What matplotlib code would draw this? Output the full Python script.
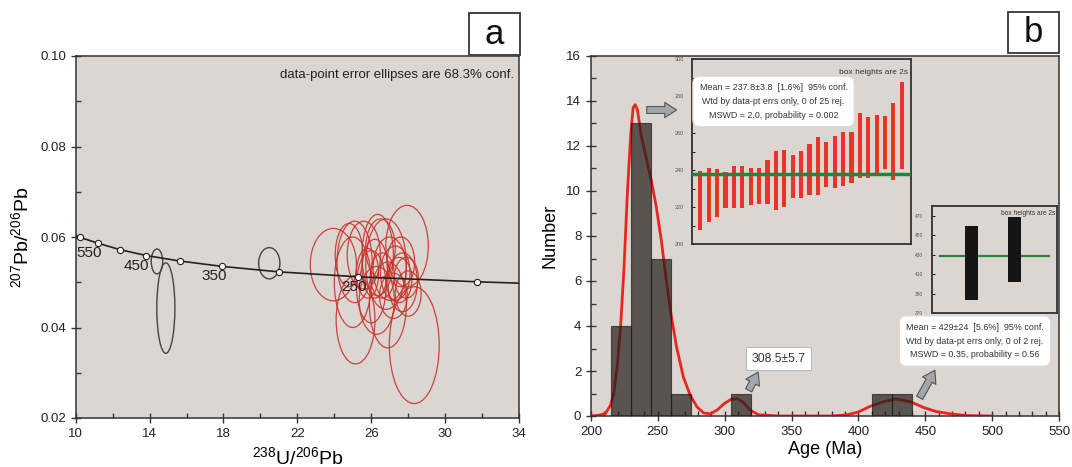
import matplotlib.pyplot as plt
import matplotlib.patches as mpatches
from matplotlib.ticker import MultipleLocator

plt.rcParams['font.family'] = ['Liberation Sans', 'DejaVu Sans']
plt.rcParams['mathtext.fontset'] = 'custom'
plt.rcParams['mathtext.rm'] = 'Liberation Sans'
plt.rcParams['mathtext.it'] = 'Liberation Sans:italic'

# ---- panel a: Tera-Wasserburg concordia ----
conc_x = [10.0, 10.25, 11.23, 12.40, 13.83, 15.62, 17.93, 20.99, 25.29, 31.73, 34.0]
conc_y = [0.0603, 0.0599, 0.0586, 0.0572, 0.0559, 0.0547, 0.0535, 0.0523, 0.0512, 0.0501, 0.0498]
marker_x = [10.25, 11.23, 12.40, 13.83, 15.62, 17.93, 20.99, 25.29, 31.73]
marker_y = [0.0599, 0.0586, 0.0572, 0.0559, 0.0547, 0.0535, 0.0523, 0.0512, 0.0501]
age_labels = ['550', '450', '350', '250']
age_label_x = [10.05, 12.6, 16.8, 24.4]
age_label_y = [0.0564, 0.0536, 0.0514, 0.0490]
a_xticks = [10, 14, 18, 22, 26, 30, 34]

# grey (older) ellipses: centre x, centre y, width, height
old_cx = [14.40, 14.88, 20.48]
old_cy = [0.0546, 0.0443, 0.0542]
old_w = [0.62, 0.98, 1.15]
old_h = [0.0055, 0.0200, 0.0069]

# red (Triassic) ellipses
red_cx = [23.95, 25.10, 25.00, 25.15, 25.60, 26.35, 26.00, 26.30, 26.90, 27.94, 28.33, 27.30, 27.50,
          27.00, 27.70, 26.60, 27.90, 25.80, 27.20, 26.20, 27.60, 28.00, 26.50, 24.80, 26.80]
red_cy = [0.0539, 0.0545, 0.0500, 0.0417, 0.0560, 0.0560, 0.0490, 0.0460, 0.0450, 0.0580, 0.0361, 0.0520, 0.0505,
          0.0530, 0.0500, 0.0515, 0.0510, 0.0520, 0.0470, 0.0530, 0.0545, 0.0475, 0.0575, 0.0560, 0.0540]
red_w = [2.50, 1.90, 2.00, 2.10, 1.80, 1.70, 1.60, 1.90, 2.00, 2.30, 2.70, 1.60, 1.40,
         1.80, 1.60, 1.30, 1.30, 1.20, 1.50, 1.40, 1.50, 1.40, 1.60, 1.50, 2.20]
red_h = [0.0160, 0.0180, 0.0200, 0.0195, 0.0150, 0.0180, 0.0160, 0.0150, 0.0190, 0.0180, 0.0258, 0.0120, 0.0100,
         0.0140, 0.0130, 0.0100, 0.0090, 0.0110, 0.0100, 0.0130, 0.0110, 0.0100, 0.0130, 0.0140, 0.0200]

# ---- panel b: histogram + probability curve ----
bin_left = [215, 230, 245, 260, 305, 410, 425]
bin_count = [4, 13, 7, 1, 1, 1, 1]
curve_age = [200, 205, 210.7, 214.5, 217, 219.6, 222.1, 224.7, 227.2, 229.7, 231.5, 233.0, 234.8, 237.4,
             241.2, 245, 248.8, 252.6, 256.4, 260.2, 264, 269.1, 274.2, 279.3, 284.4, 289.5, 294.6, 299.6,
             304.7, 309.3, 313.6, 318.7, 325, 340, 380, 392, 400, 408.7, 416.6, 428, 439.5, 448.6, 458,
             468.5, 481, 500]
curve_num = [0, 0.03, 0.1, 0.47, 1.0, 2.2, 3.95, 6.6, 9.9, 12.5, 13.7, 13.84, 13.6, 12.5,
             11.5, 10.5, 9.3, 7.8, 6.0, 4.4, 3.06, 1.73, 0.92, 0.4, 0.13, 0.1, 0.28, 0.55,
             0.74, 0.77, 0.62, 0.28, 0.06, 0, 0, 0.06, 0.18, 0.43, 0.6, 0.76, 0.62, 0.38, 0.2,
             0.1, 0.02, 0]

# inset 1: 25 Triassic ages, box tops/bottoms (2s)
young_top = [239.6, 241.4, 240.4, 238.9, 242.3, 242.3, 240.9, 241.4, 245.6, 250.1, 250.8, 248.1, 250.5,
             254.4, 258.0, 255.0, 258.6, 260.7, 260.7, 271.0, 269.0, 269.9, 269.5, 276.4, 287.7]
young_bot = [207.6, 211.7, 214.4, 219.3, 219.3, 219.3, 221.1, 221.6, 221.6, 218.4, 220.2, 224.9, 224.9,
             226.5, 226.5, 231.0, 230.1, 231.5, 232.8, 236.0, 236.0, 237.5, 240.5, 234.6, 240.5]
young_mean = 237.8
# inset 2: 2 Silurian ages
old_top = [460, 469]
old_bot = [384, 402]
old_mean = 429

BG = '#dcd6d2'
W, H = 1072, 467
fig = plt.figure(figsize=(W / 100, H / 100), dpi=100)


def px_axes(l, t, r, b):
    return fig.add_axes([l / W, 1 - b / H, (r - l) / W, (b - t) / H])


def style(ax):
    ax.set_facecolor(BG)
    for s in ax.spines.values():
        s.set_color('#333333')
        s.set_linewidth(1.1)
    ax.tick_params(which='major', direction='inout', length=7, width=1, color='#333333',
                   labelsize=9.5, labelcolor='#222222')
    ax.tick_params(which='minor', direction='in', length=3.5, width=1, color='#333333')


def label_box(l, t, r, b, letter):
    fig.patches.append(mpatches.Rectangle((l / W, 1 - b / H), (r - l) / W, (b - t) / H,
                                          transform=fig.transFigure, fc='white', ec='#444444', lw=1.4))
    fig.text((l + r) / 2 / W, 1 - (t + b) / 2 / H, letter, ha='center', va='center', fontsize=25,
             color='#111111')


# ---------------- panel a ----------------
ax1 = px_axes(75.7, 56, 519, 418)
style(ax1)
ax1.set_xlim(10, 34)
ax1.set_ylim(0.02, 0.10)
ax1.set_xticks(a_xticks)
ax1.set_xticks([x + 2 for x in a_xticks[:-1]], minor=True)
ax1.yaxis.set_major_locator(MultipleLocator(0.02))
ax1.yaxis.set_minor_locator(MultipleLocator(0.01))
ax1.yaxis.set_major_formatter(lambda v, p: f'{v:.2f}')

for cx, cy, w, h in zip(red_cx, red_cy, red_w, red_h):
    ax1.add_patch(mpatches.Ellipse((cx, cy), w, h, fill=False, ec='#c8332c', lw=0.9, alpha=0.9))
for cx, cy, w, h in zip(old_cx, old_cy, old_w, old_h):
    ax1.add_patch(mpatches.Ellipse((cx, cy), w, h, fill=False, ec='#444444', lw=1.0))

ax1.plot(conc_x, conc_y, color='#222222', lw=1.2, zorder=3)
ax1.plot(marker_x, marker_y, 'o', ms=4.5, mfc='white', mec='#222222', mew=0.8, zorder=4)
for t, x, y in zip(age_labels, age_label_x, age_label_y):
    ax1.text(x, y, t, fontsize=11, color='#222222', va='center', ha='left', zorder=5)

ax1.text(0.99, 0.947, 'data-point error ellipses are 68.3% conf.', transform=ax1.transAxes,
         ha='right', va='center', fontsize=9.5, color='#222222')
ax1.set_xlabel(r'$^{238}\mathrm{U}/^{206}\mathrm{Pb}$', fontsize=14, labelpad=5)
ax1.set_ylabel(r'$^{207}\mathrm{Pb}/^{206}\mathrm{Pb}$', fontsize=14, labelpad=6)
label_box(469, 13, 520, 55, 'a')

# ---------------- panel b ----------------
ax2 = px_axes(591, 56, 1059, 416)
style(ax2)
ax2.set_xlim(200, 550)
ax2.set_ylim(0, 16)
ax2.xaxis.set_major_locator(MultipleLocator(50))
ax2.xaxis.set_minor_locator(MultipleLocator(10))
ax2.yaxis.set_major_locator(MultipleLocator(2))
ax2.yaxis.set_minor_locator(MultipleLocator(1))

ax2.plot(curve_age, curve_num, color='#e8261e', lw=2, zorder=2)
ax2.bar(bin_left, bin_count, width=15, align='edge', color='#221d19', alpha=0.7,
        edgecolor='#1e1a17', lw=0.8, zorder=3)
ax2.set_xlabel('Age (Ma)', fontsize=13, labelpad=2)
ax2.set_ylabel('Number', fontsize=13, labelpad=6)

arrow_style = 'simple,head_length=0.85,head_width=1.1,tail_width=0.5'
for tail, head in [((241.7, 13.6), (264.0, 13.6)),
                   ((317.9, 1.14), (325.0, 1.95)),
                   ((445.8, 0.81), (457.2, 2.03))]:
    ax2.annotate('', xy=head, xytext=tail,
                 arrowprops=dict(arrowstyle=arrow_style, fc='#a2a6aa', ec='#555555', lw=0.8,
                                 shrinkA=0, shrinkB=0), zorder=6)

ax2.text(778.6 / W, 1 - 358.5 / H, '308.5±5.7', transform=fig.transFigure, ha='center',
         va='center', fontsize=8.7, color='#333333',
         bbox=dict(boxstyle='square,pad=0.45', fc='white', ec='#bbbbbb', lw=0.8))

# inset 1
ins1 = px_axes(692, 59.3, 911, 244)
ins1.set_facecolor(BG)
for s in ins1.spines.values():
    s.set_color('#333333')
    s.set_linewidth(1.3)
ins1.set_xlim(0, 26.1)
ins1.set_ylim(200, 300)
ins1.set_xticks([])
ins1.yaxis.set_major_locator(MultipleLocator(20))
ins1.yaxis.set_minor_locator(MultipleLocator(10))
ins1.tick_params(which='both', direction='in', length=2.5, width=0.6, labelsize=4,
                 labelcolor='#555555', pad=6)
idx1 = range(1, len(young_top) + 1)
ins1.bar(idx1, [t - b for t, b in zip(young_top, young_bot)], bottom=young_bot, width=0.5,
         color='#ec3228', zorder=2)
ins1.axhline(young_mean, color='#23843a', lw=2.5, zorder=3)
ins1.text(0.985, 0.93, 'box heights are 2s', transform=ins1.transAxes, ha='right', va='center',
          fontsize=6, color='#333333')
ins1.text(773.5 / W, 1 - 101.5 / H,
          'Mean = 237.8±3.8  [1.6%]  95% conf.\nWtd by data-pt errs only, 0 of 25 rej.\n'
          'MSWD = 2.0, probability = 0.002',
          transform=fig.transFigure, ha='center', va='center', fontsize=6.4, linespacing=1.7,
          color='#333333', zorder=5,
          bbox=dict(boxstyle='round,pad=0.75,rounding_size=0.8', fc='white', ec='#dddddd', lw=0.8))

# inset 2
ins2 = px_axes(931.6, 206, 1056.7, 313.3)
ins2.set_facecolor(BG)
for s in ins2.spines.values():
    s.set_color('#333333')
    s.set_linewidth(1.3)
ins2.set_xlim(0.05, 3.0)
ins2.set_ylim(370, 480)
ins2.set_xticks([])
ins2.set_yticks(range(370, 480, 20))
ins2.tick_params(which='both', direction='in', length=2.5, width=0.6, labelsize=3.5,
                 labelcolor='#555555', pad=6)
ins2.bar([1, 2], [t - b for t, b in zip(old_top, old_bot)], bottom=old_bot, width=0.31,
         color='#151515', zorder=3)
ins2.plot([0.25, 2.81], [old_mean, old_mean], color='#23843a', lw=1.6, zorder=2)
ins2.text(0.99, 0.93, 'box heights are 2s', transform=ins2.transAxes, ha='right', va='center',
          fontsize=4.8, color='#333333')
ins2.text(975 / W, 1 - 341 / H,
          'Mean = 429±24  [5.6%]  95% conf.\nWtd by data-pt errs only, 0 of 2 rej.\n'
          'MSWD = 0.35, probability = 0.56',
          transform=fig.transFigure, ha='center', va='center', fontsize=6.4, linespacing=1.7,
          color='#333333', zorder=5,
          bbox=dict(boxstyle='round,pad=0.75,rounding_size=0.8', fc='white', ec='#dddddd', lw=0.8))

label_box(1008, 12, 1059, 53, 'b')

fig.savefig('out.png', dpi=100, facecolor='white')
